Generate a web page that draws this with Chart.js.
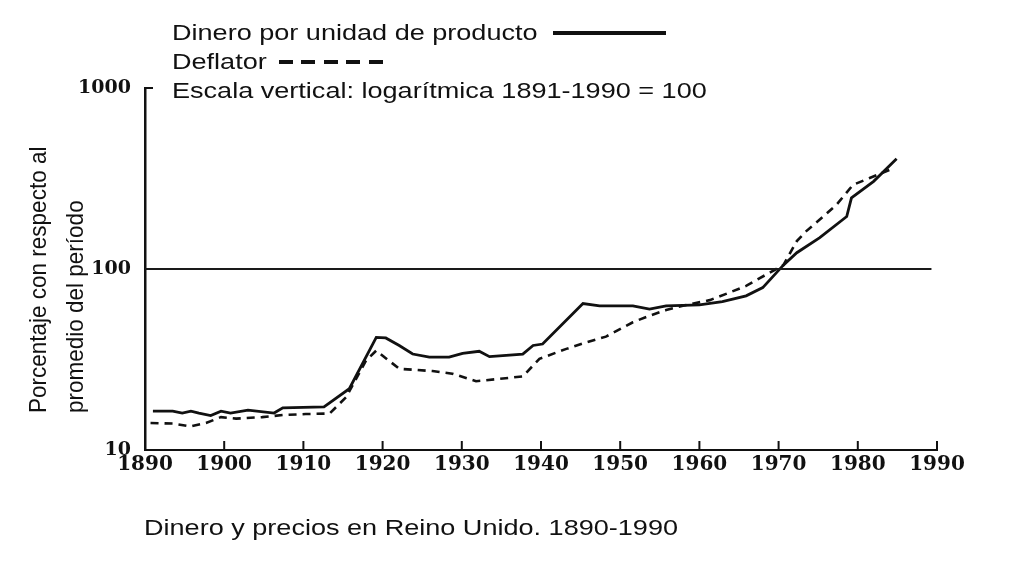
<!DOCTYPE html>
<html>
<head>
<meta charset="utf-8">
<script src="https://cdn.jsdelivr.net/npm/chart.js@4.4.1/dist/chart.umd.min.js"></script>
<style>
  html, body { margin:0; padding:0; background:#fff; }
  #wrap { position:relative; width:1016px; height:576px; overflow:hidden; background:#fff; }
  #c { position:absolute; left:0; top:0; }
  .txt { position:absolute; font-family:"Liberation Sans", Arial, sans-serif; font-size:22px; line-height:22px; color:#111; white-space:nowrap; transform-origin:0 0; transform:scaleX(1.23); }
  .ytitle { position:absolute; font-family:"Liberation Sans", Arial, sans-serif; font-size:22.5px; line-height:22.5px; color:#111; white-space:nowrap; transform-origin:0 0; transform:scaleX(1.1) rotate(-90deg); }
  .solidSample { position:absolute; left:553px; top:31px; width:113px; height:0; border-top:4px solid #111; }
  .dashSample { position:absolute; left:279px; top:60px; width:104px; height:4px;
    background:repeating-linear-gradient(to right, #111 0 14px, transparent 14px 22.5px); }
</style>
</head>
<body>
<div id="wrap">
  <canvas id="c" width="1016" height="576"></canvas>
  <div class="txt" style="left:172px; top:22px;">Dinero por unidad de producto</div>
  <div class="solidSample"></div>
  <div class="txt" style="left:172px; top:51px;">Deflator</div>
  <div class="dashSample"></div>
  <div class="txt" style="left:172px; top:80px;">Escala vertical: logarítmica 1891-1990 = 100</div>
  <div class="ytitle" style="left:26px; top:413px;">Porcentaje con respecto al</div>
  <div class="ytitle" style="left:63px; top:413px;">promedio del período</div>
  <div class="txt" style="left:144px; top:517px;">Dinero y precios en Reino Unido. 1890-1990</div>
</div>
<script>
// ---- data ----
const moneyYears  = [1891, 1893.5, 1894.7, 1895.8, 1896.8, 1898.3, 1899.6, 1900.8, 1903, 1906.3, 1907.4, 1912.6, 1915.8, 1919.2, 1920.4, 1922.1, 1923.8, 1925.9, 1928.4, 1930.1, 1932.2, 1933.5, 1937.7, 1939, 1940.2, 1945.3, 1947.4, 1951.6, 1953.7, 1955.8, 1960, 1962.9, 1965.9, 1968, 1970.6, 1972.3, 1975.2, 1978.6, 1979.2, 1982, 1984.9];
const moneyValues = [16.4, 16.4, 16.0, 16.4, 16.0, 15.5, 16.4, 16.0, 16.6, 16.0, 17.1, 17.3, 21.8, 41.9, 41.6, 37.8, 33.9, 32.6, 32.6, 34.2, 35.1, 32.8, 33.9, 37.8, 38.5, 64.4, 62.6, 62.6, 60.0, 62.6, 63.3, 66.0, 71.1, 78.9, 105, 123, 149, 195, 247, 305, 406];

const deflatorYears  = [1890.7, 1893.5, 1895.8, 1897.7, 1899.6, 1901.5, 1904.8, 1907.4, 1910.3, 1913.3, 1915.4, 1917.9, 1919.2, 1922.1, 1926.3, 1928.8, 1931.8, 1934.7, 1937.7, 1939.8, 1943.2, 1945.7, 1948.2, 1951.6, 1953.7, 1955.8, 1957.9, 1961.3, 1963.8, 1965.9, 1968.5, 1970.6, 1972.3, 1973.5, 1975.2, 1977.3, 1979.4, 1981.5, 1984.5];
const deflatorValues = [14.1, 14.0, 13.5, 14.1, 15.2, 14.9, 15.2, 15.6, 15.8, 15.9, 19.6, 31.2, 35.4, 28.1, 27.3, 26.4, 24.0, 24.7, 25.5, 31.9, 36.2, 39.3, 42.3, 50.8, 55.2, 59.3, 62.6, 67.3, 74.1, 80.7, 93.5, 105, 142.6, 162, 187.5, 226, 292, 318, 360];

const baseYears  = [1890, 1989.3];
const baseValues = [100, 100];

const xTickYears  = [1890, 1900, 1910, 1920, 1930, 1940, 1950, 1960, 1970, 1980, 1990];
const yTickValues = [10, 100, 1000];

const toPoints = (xs, ys) => xs.map((x, i) => ({ x: x, y: ys[i] }));

const innerTicks = {
  id: 'innerTicks',
  afterDraw(chart) {
    const { ctx, chartArea } = chart;
    const xs = chart.scales.x, ys = chart.scales.y;
    ctx.save();
    ctx.strokeStyle = '#111';
    ctx.lineWidth = 2;
    xTickYears.forEach(v => {
      if (v === xTickYears[0]) return;
      const px = xs.getPixelForValue(v);
      ctx.beginPath();
      ctx.moveTo(px, chartArea.bottom);
      ctx.lineTo(px, chartArea.bottom - 9);
      ctx.stroke();
    });
    const top = ys.getPixelForValue(yTickValues[yTickValues.length - 1]);
    ctx.beginPath();
    ctx.moveTo(chartArea.left, top);
    ctx.lineTo(chartArea.left + 8, top);
    ctx.stroke();
    ctx.restore();
  }
};

new Chart(document.getElementById('c'), {
  type: 'line',
  data: {
    datasets: [
      { data: toPoints(baseYears, baseValues), borderColor: '#1a1a1a', borderWidth: 2.2, pointRadius: 0, tension: 0 },
      { data: toPoints(moneyYears, moneyValues), borderColor: '#111', borderWidth: 2.8, pointRadius: 0, tension: 0 },
      { data: toPoints(deflatorYears, deflatorValues), borderColor: '#111', borderWidth: 2.6, borderDash: [8, 6], pointRadius: 0, tension: 0 }
    ]
  },
  options: {
    responsive: false,
    animation: false,
    events: [],
    layout: { padding: { left: 0, right: 79, top: 88, bottom: 86 } },
    plugins: { legend: { display: false }, tooltip: { enabled: false }, title: { display: false } },
    scales: {
      x: {
        type: 'linear', min: 1890, max: 1990,
        afterBuildTicks: s => { s.ticks = xTickYears.map(v => ({ value: v })); },
        afterFit: s => { s.height = 40; },
        grid: { display: false, drawTicks: false },
        border: { display: true, color: '#111', width: 2 },
        ticks: { font: { family: 'DejaVu Serif', size: 20, weight: 'bold' }, color: '#111', padding: 3, maxRotation: 0, autoSkip: false, callback: v => String(v) }
      },
      y: {
        type: 'logarithmic', min: 10, max: 1000,
        afterBuildTicks: s => { s.ticks = yTickValues.map(v => ({ value: v })); },
        afterFit: s => { s.width = 145; },
        grid: { display: false, drawTicks: false },
        border: { display: true, color: '#111', width: 2.5 },
        ticks: { font: { family: 'DejaVu Serif', size: 19, weight: 'bold' }, color: '#111', padding: 14, autoSkip: false, callback: v => String(v) }
      }
    }
  },
  plugins: [innerTicks]
});
</script>
</body>
</html>
